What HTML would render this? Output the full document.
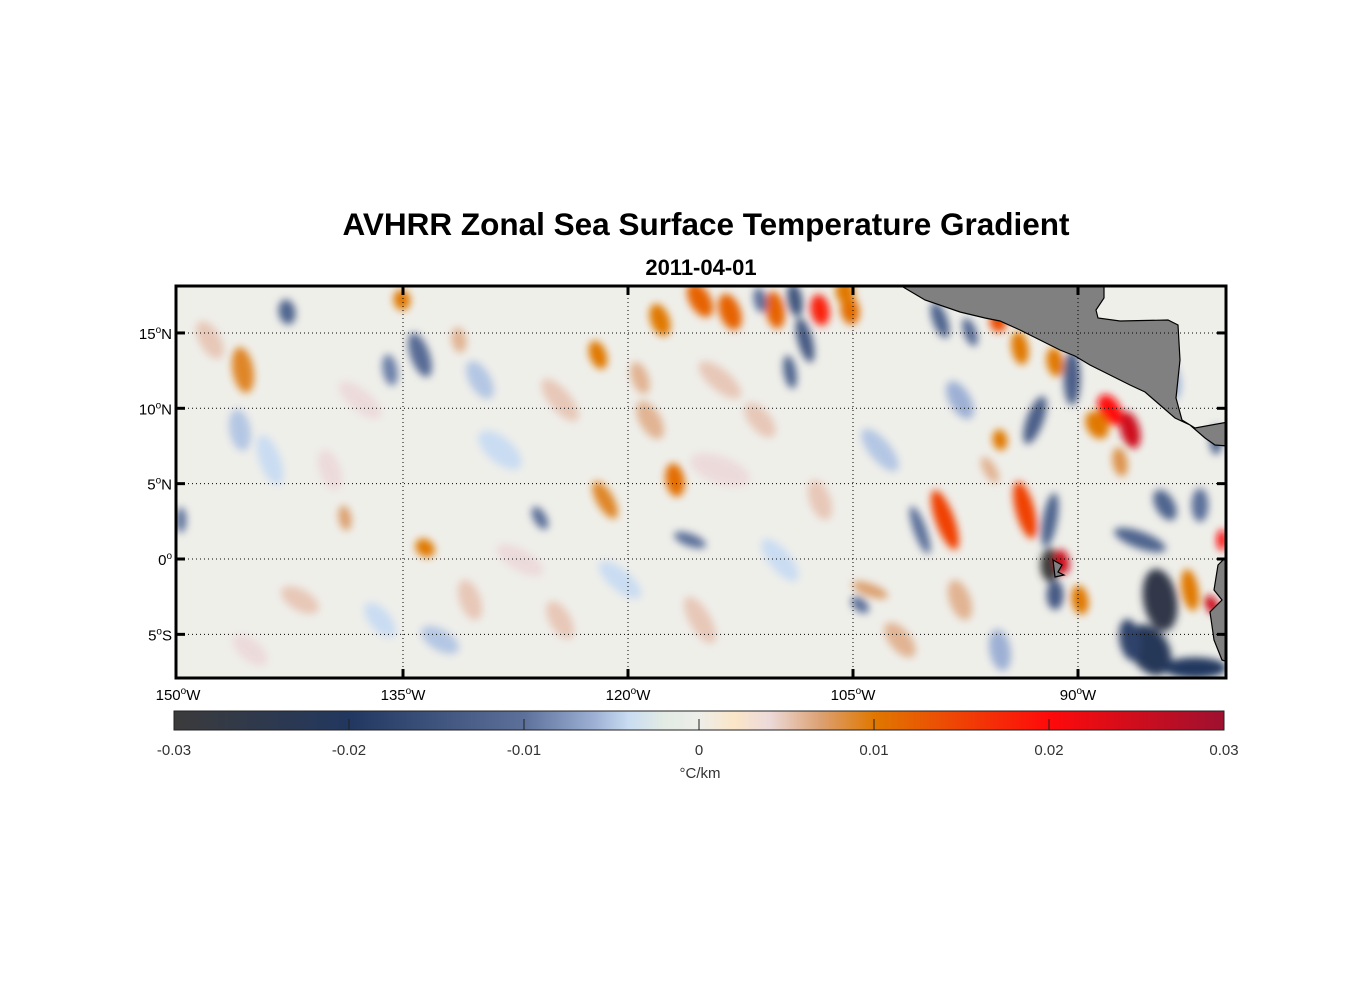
<!DOCTYPE html>
<html><head><meta charset="utf-8"><style>
html,body{margin:0;padding:0;background:#fff;}
svg{display:block;font-family:"Liberation Sans",Arial,sans-serif;}
</style></head><body>
<svg id="chart" width="1356" height="1000" viewBox="0 0 1356 1000" xmlns="http://www.w3.org/2000/svg">
<defs>
<filter id="blur" x="-50%" y="-50%" width="200%" height="200%"><feGaussianBlur stdDeviation="4"/></filter>
<clipPath id="plotclip"><rect x="176" y="286" width="1050" height="392"/></clipPath>
<linearGradient id="cbgrad" x1="0" x2="1" y1="0" y2="0"></linearGradient>
</defs>
<text x="706" y="235" text-anchor="middle" font-size="31.5" font-weight="bold">AVHRR Zonal Sea Surface Temperature Gradient</text>
<text x="701" y="275" text-anchor="middle" font-size="22" font-weight="bold">2011-04-01</text>
<g id="plot" clip-path="url(#plotclip)">
<rect x="176" y="286" width="1050" height="392" fill="#efefea"/>
<g id="blobs" filter="url(#blur)"></g>
<g id="land" fill="#808080" stroke="#000" stroke-width="1.2">
<path d="M898,284 L925,300 L960,312 L985,318 L1000,321 L1020,330 L1040,340 L1060,350 L1075,356 L1090,365 L1110,375 L1130,385 L1145,392 L1160,405 L1175,418 L1190,425 L1205,438 L1215,445 L1228,446 L1228,422 L1195,428 L1182,420 L1176,398 L1180,360 L1178,325 L1168,320 L1120,321 L1098,318 L1096,310 L1104,298 L1104,284 Z"/>
<path d="M1228,555 L1218,565 L1214,590 L1222,600 L1210,612 L1214,640 L1222,660 L1228,662 Z"/>
<path d="M1053,560 L1062,565 L1058,572 L1064,575 L1055,577 Z"/>
</g>
<g id="grid" stroke="#000" stroke-width="1" stroke-dasharray="1,3" fill="none"></g>
</g>
<rect x="176" y="286" width="1050" height="392" fill="none" stroke="#000" stroke-width="3"/>
<g id="ticks" stroke="#000" stroke-width="3"></g>
<g id="labels" font-size="15" fill="#000"></g>
<g id="colorbar">
<rect x="174" y="711" width="1050" height="19" fill="url(#cbgrad)" stroke="#222" stroke-width="1"/>
<g id="cbticks"></g>
<text x="700" y="778" text-anchor="middle" font-size="15" fill="#333">°C/km</text>
</g>
</svg>
<script>
var NS="http://www.w3.org/2000/svg";
var cmapVals=[-0.03,-0.02,-0.01,-0.006,-0.004,-0.002,0,0.002,0.004,0.007,0.01,0.02,0.03];
var cmapCols=["#3b3b3b","#22375f","#5c709a","#9db0d4","#c9dcf2","#e2ebe4","#eeeeea","#fbe6c8","#ecdada","#dca070","#e07800","#ff0a0a","#9e1030"];
var blobLon=[];var blobLat=[];var blobVal=[];var blobLen=[];var blobWid=[];var blobAng=[];
var feats=[
[243,370,0.009,2.2,1.0,80],[287,312,-0.012,1.2,0.8,80],[402,300,0.01,1.0,0.8,80],[420,355,-0.011,2.2,0.9,70],[390,370,-0.009,1.5,0.7,80],
[459,340,0.006,1.2,0.7,80],[598,355,0.01,1.4,0.8,70],[660,320,0.01,1.6,0.9,70],[700,300,0.012,1.8,1.0,60],[730,312,0.012,1.8,1.0,70],
[775,310,0.012,1.8,0.9,80],[820,310,0.018,1.5,0.9,80],[795,300,-0.015,1.6,0.7,80],[805,340,-0.014,2.2,0.7,75],[790,372,-0.012,1.6,0.6,80],
[760,300,-0.01,1.2,0.6,80],[675,480,0.011,1.6,0.9,80],[605,500,0.009,2.0,0.8,60],[425,548,0.01,1.0,0.8,40],[345,518,0.007,1.2,0.6,80],
[540,518,-0.01,1.2,0.6,60],[690,540,-0.01,1.6,0.6,20],[640,378,0.006,1.6,0.8,70],[181,520,-0.01,1.2,0.5,90],[860,605,-0.01,1.0,0.6,40],
[870,590,0.007,1.8,0.6,20],[850,310,0.011,1.4,0.9,80],[845,292,0.01,1.2,0.9,80],[940,320,-0.012,1.8,0.7,70],[970,332,-0.011,1.4,0.6,70],
[998,322,0.014,1.0,0.8,80],[1020,348,0.01,1.6,0.8,80],[1035,420,-0.013,2.4,0.8,110],[1055,362,0.01,1.4,0.8,80],[1072,378,-0.013,2.6,0.8,90],
[1110,410,0.02,1.6,1.0,60],[1130,430,0.025,1.8,0.9,75],[1097,425,0.01,1.4,1.0,60],[1050,520,-0.012,2.6,0.7,100],[1025,510,0.015,2.8,0.9,75],
[945,520,0.015,3.0,0.9,70],[920,530,-0.01,2.4,0.6,70],[1050,565,-0.03,1.6,0.9,90],[1062,562,0.025,1.2,0.7,80],[1055,595,-0.014,1.4,0.8,90],
[1160,600,-0.026,3.0,1.6,80],[1150,650,-0.022,2.6,1.8,60],[1195,668,-0.02,3.0,1.0,0],[1140,540,-0.012,2.6,0.8,20],[1165,505,-0.012,1.6,0.9,60],
[1200,505,-0.01,1.6,0.8,90],[1190,590,0.01,2.0,0.8,80],[1212,605,0.025,1.0,0.6,60],[1222,540,0.02,1.0,0.5,90],[1080,600,0.01,1.4,0.8,80],
[1000,440,0.01,1.0,0.7,80],[1120,462,0.008,1.4,0.7,80],[1216,440,-0.012,1.4,0.6,90],[1130,640,-0.018,2.0,1.0,80],[990,470,0.006,1.4,0.6,60],
[240,430,-0.005,2,1,80],[300,600,0.005,2,1,30],[500,450,-0.004,2.5,1.2,40],[720,470,0.004,3,1.3,20],[560,620,0.005,2,1,60],[330,470,0.004,2,1,70],
[440,640,-0.005,2,1,30],[880,450,-0.005,2.5,1,50],[900,640,0.006,2,1,50],[1000,650,-0.006,2,1,80],[760,420,0.005,2,1,50],
[210,340,0.005,2,1,60],[270,460,-0.004,2.5,1,70],[360,400,0.004,2.5,1,40],[480,380,-0.005,2,1,60],[560,400,0.005,2.5,1,50],[520,560,0.004,2.5,1,30],
[620,580,-0.004,2.5,1,40],[700,620,0.005,2.5,1,60],[780,560,-0.004,2.5,1,50],[820,500,0.005,2,1,70],[650,420,0.006,2,1,60],[380,620,-0.004,2,1,50],
[250,650,0.004,2,1,40],[470,600,0.005,2,1.0,70],[720,380,0.005,2.5,1,40],[960,400,-0.006,2,1,60],[960,600,0.006,2,1,70],[1170,380,-0.006,2,1,80]
];
for(var i=0;i<feats.length;i++){blobLon.push(+(-150+(feats[i][0]-178)/15).toFixed(2));blobLat.push(+((559-feats[i][1])/15.07).toFixed(2));blobVal.push(feats[i][2]);blobLen.push(feats[i][3]);blobWid.push(feats[i][4]);blobAng.push(feats[i][5]);}
var lonTicks=[-150,-135,-120,-105,-90];
var lonLabels=["150","135","120","105","90"];
var latTicks=[15,10,5,0,-5];
var latLabels=["15","10","5","0","5"];
var latHemi=["N","N","N","","S"];
var cbTicks=[-0.03,-0.02,-0.01,0,0.01,0.02,0.03];
var cbLabels=["-0.03","-0.02","-0.01","0","0.01","0.02","0.03"];

function xOf(lon){return 178+(lon+150)*15;}
function yOf(lat){return 559-lat*15.07;}
function cbX(v){return 174+(v+0.03)/0.06*1050;}
function hex(c){return [parseInt(c.substr(1,2),16),parseInt(c.substr(3,2),16),parseInt(c.substr(5,2),16)];}
function colorOf(v){
  if(v<=cmapVals[0])return cmapCols[0];
  for(var i=1;i<cmapVals.length;i++){if(v<=cmapVals[i]){var t=(v-cmapVals[i-1])/(cmapVals[i]-cmapVals[i-1]);var a=hex(cmapCols[i-1]),b=hex(cmapCols[i]);return "rgb("+Math.round(a[0]+(b[0]-a[0])*t)+","+Math.round(a[1]+(b[1]-a[1])*t)+","+Math.round(a[2]+(b[2]-a[2])*t)+")";}}
  return cmapCols[cmapCols.length-1];
}
var g=document.getElementById("blobs");
for(var i=0;i<blobVal.length;i++){
  var e=document.createElementNS(NS,"ellipse");
  var cx=xOf(blobLon[i]),cy=yOf(blobLat[i]);
  e.setAttribute("cx",cx);e.setAttribute("cy",cy);
  e.setAttribute("rx",blobLen[i]*15*0.7);e.setAttribute("ry",blobWid[i]*15*0.7);
  e.setAttribute("transform","rotate("+blobAng[i]+" "+cx+" "+cy+")");
  e.setAttribute("fill",colorOf(blobVal[i]));
  
  
  g.appendChild(e);
}
var grid=document.getElementById("grid"),ticks=document.getElementById("ticks"),labels=document.getElementById("labels");
function mk(tag,attrs,parent){var el=document.createElementNS(NS,tag);for(var k in attrs)el.setAttribute(k,attrs[k]);parent.appendChild(el);return el;}
for(var i=0;i<lonTicks.length;i++){
  var x=xOf(lonTicks[i]);
  if(i>0){
    var l=mk("line",{x1:x,x2:x,y1:286,y2:678},grid);
    
    
    mk("line",{x1:x,x2:x,y1:286,y2:295},ticks);mk("line",{x1:x,x2:x,y1:669,y2:678},ticks);
  }
  var t=mk("text",{x:x,y:700,"text-anchor":"middle"},labels);
  
  
  t.innerHTML=lonLabels[i]+'<tspan font-size="10" dy="-6">o</tspan><tspan dy="6">W</tspan>';
}
for(var i=0;i<latTicks.length;i++){
  var y=yOf(latTicks[i]);
  var l=mk("line",{x1:176,x2:1226,y1:y,y2:y},grid);
  
  
  mk("line",{x1:176,x2:185,y1:y,y2:y},ticks);mk("line",{x1:1217,x2:1226,y1:y,y2:y},ticks);
  var t=mk("text",{x:172,y:y+6,"text-anchor":"end"},labels);
  
  
  t.innerHTML=latLabels[i]+'<tspan font-size="10" dy="-6">o</tspan><tspan dy="6">'+latHemi[i]+'</tspan>';
}
var grad=document.getElementById("cbgrad");
for(var i=0;i<cmapVals.length;i++){mk("stop",{offset:((cmapVals[i]+0.03)/0.06*100)+"%","stop-color":cmapCols[i]},grad);}
var cbt=document.getElementById("cbticks");
for(var i=0;i<cbTicks.length;i++){
  var x=cbX(cbTicks[i]);
  if(i>0&&i<cbTicks.length-1)mk("line",{x1:x,x2:x,y1:719,y2:730,stroke:"#222","stroke-width":1},cbt);
  var t=mk("text",{x:x,y:755,"text-anchor":"middle","font-size":15,fill:"#333"},cbt);
  
  
  t.textContent=cbLabels[i];
}
</script>
</body></html>
